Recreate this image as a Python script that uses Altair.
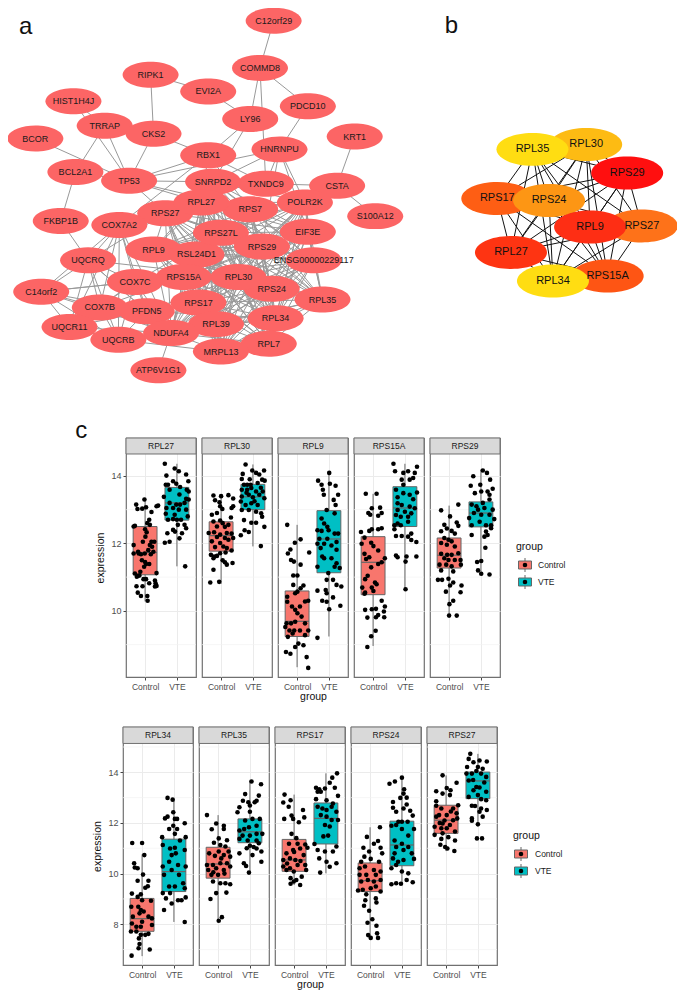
import itertools
import altair as alt
import pandas as pd

FONT = "Liberation Sans"

# ---------- network a ----------
A_NODES = ["C12orf29","COMMD8","RIPK1","EVI2A","HIST1H4J","PDCD10","KRT1","BCOR","S100A12","FKBP1B","BCL2A1","TRRAP","TP53","CKS2","LY96","HNRNPU","RBX1","CSTA","TXNDC9","SNRPD2","POLR2K","RPS7","EIF3E","ENSG00000229117","RPS27","RPL27","COX7A2","UQCRQ","C14orf2","RPL9","RSL24D1","RPS27L","RPS29","RPS24","RPL30","COX7C","RPS15A","RPL35","COX7B","UQCR11","UQCRB","PFDN5","RPL34","RPS17","RPL39","ATP6V1G1","NDUFA4","RPL7","MRPL13"]
A_X = [272,258,146,205,67,307,355,28,376,54,69,99,124,149,248,278,205,337,264,210,304,248,307,313,161,198,114,82,34,149,193,218,260,270,236,130,180,322,94,63,113,142,274,195,213,154,167,267,218]
A_Y = [13,61,68,85,95,100,131,133,212,217,167,120,176,128,113,144,150,181,179,177,198,205,228,257,209,198,221,257,289,246,251,229,243,286,274,279,274,297,305,325,338,309,316,300,322,369,331,342,350]
A_SPARSE = [("C12orf29","COMMD8"),("COMMD8","LY96"),("COMMD8","PDCD10"),("COMMD8","TXNDC9"),("RIPK1","EVI2A"),("RIPK1","CKS2"),("EVI2A","LY96"),("HIST1H4J","TRRAP"),("HIST1H4J","TP53"),("TRRAP","TP53"),("TRRAP","BCL2A1"),("TRRAP","CKS2"),("CKS2","TP53"),("CKS2","RBX1"),("BCOR","TP53"),("BCL2A1","TP53"),("BCL2A1","FKBP1B"),("TP53","RBX1"),("TP53","SNRPD2"),("TP53","RPS27"),("TP53","RPL27"),("TP53","RPS7"),("LY96","RBX1"),("LY96","SNRPD2"),("PDCD10","HNRNPU"),("KRT1","CSTA"),("HNRNPU","TXNDC9"),("HNRNPU","SNRPD2"),("HNRNPU","POLR2K"),("HNRNPU","EIF3E"),("HNRNPU","RPS29"),("HNRNPU","TP53"),("CSTA","S100A12"),("CSTA","TXNDC9"),("CSTA","POLR2K"),("FKBP1B","UQCRQ"),("RBX1","COX7A2"),("RBX1","RPS7"),("RBX1","TXNDC9"),("RBX1","RPL27"),("C14orf2","COX7C"),("ATP6V1G1","NDUFA4"),("UQCRQ","RPS27"),("COX7A2","RPL27"),("COX7C","RPS27L"),("COX7C","RPL30"),("UQCRQ","RPL30"),("UQCRB","RPL34"),("UQCRB","MRPL13"),("PFDN5","RPL34"),("PFDN5","RPL30"),("COX7B","RPS15A")]
A_MITO = ["UQCRQ","COX7A2","COX7C","C14orf2","COX7B","UQCR11","UQCRB","PFDN5","NDUFA4"]
A_RIBO = ["RPL27","RPS27","RPS7","RPS27L","RPS29","RPL9","RSL24D1","RPS15A","RPL30","RPS24","RPL35","RPS17","RPL34","RPL39","RPL7","MRPL13","EIF3E","ENSG00000229117","SNRPD2","NDUFA4","POLR2K"]

# ---------- network b ----------
B_NODES = ["RPL30","RPL35","RPS29","RPS17","RPS24","RPS27","RPL9","RPL27","RPS15A","RPL34"]
B_X = [592,537,634,501,554,649,596,515,614,558]
B_Y = [139,144,168,194,196,222,223,249,273,278]
B_COLORS = ["#FDBB13","#FFDD12","#FF0F0F","#FE5E14","#FD9614","#FE7219","#FE2E14","#FE3412","#FE5514","#FFDD12"]

LETTERS = ["a","b","c"]
LETTER_X = [18,454,75]
LETTER_Y = [19,18,431]

# ---------- box statistics: low, q1, median, q3, high ----------
STATS_RPL27 = [[10.28,11.07,11.73,12.50,13.35],[11.32,12.69,13.20,13.66,14.36]]
STATS_RPL30 = [[10.80,11.77,12.23,12.64,13.45],[11.91,13.00,13.38,13.75,14.34]]
STATS_RPL9 = [[8.33,9.24,9.69,10.59,12.55],[9.24,11.13,12.13,12.97,14.09]]
STATS_RPS15A = [[8.96,10.48,11.44,12.20,13.47],[10.62,12.50,13.05,13.68,14.36]]
STATS_RPS29 = [[9.86,11.27,11.65,12.16,13.12],[11.07,12.49,12.90,13.23,14.19]]
STATS_RPL34 = [[6.74,7.72,8.22,9.02,10.76],[8.09,9.29,10.08,11.36,12.96]]
STATS_RPL35 = [[8.11,9.82,10.38,11.04,12.31],[9.97,11.22,11.65,12.16,13.68]]
STATS_RPS17 = [[9.55,10.09,10.54,11.35,13.12],[10.01,11.17,12.18,12.79,13.96]]
STATS_RPS24 = [[7.46,9.29,9.72,10.42,11.83],[9.55,10.31,11.13,12.07,13.79]]
STATS_RPS27 = [[10.89,11.59,12.11,12.70,13.88],[11.85,12.96,13.66,14.01,14.73]]

# ---------- points (x position around group 1 or 2, expression) ----------
RPL27_C = [(0.72,13.15),(0.98,13.3),(0.76,13.02),(0.91,13.03),(1.03,13.07),(1.2,12.93),(1.36,13.1),(1.41,13.12),(1.13,12.7),(1.07,12.6),(1.15,12.55),(1.0,12.42),(0.68,12.52),(0.64,12.5),(1.05,12.33),(1.01,12.2),(0.93,12.05),(1.2,12.05),(1.29,12.05),(1.15,11.95),(0.64,11.95),(0.78,11.75),(0.64,11.7),(0.87,11.68),(0.99,11.7),(1.1,11.8),(1.26,11.75),(1.18,11.68),(0.9,11.5),(1.03,11.39),(1.13,11.39),(0.97,11.31),(0.85,11.16),(0.68,11.11),(0.74,11.01),(0.78,11.04),(0.95,10.94),(1.03,10.94),(1.36,11.12),(0.73,10.73),(0.92,10.73),(1.13,10.82),(1.31,10.9),(1.33,10.82),(1.36,10.74),(1.31,10.72),(0.77,10.54),(0.87,10.44),(1.07,10.44),(1.08,10.3),(0.8,11.7),(1.22,11.9),(1.0,11.45),(0.82,11.05)]
RPL27_V = [(1.62,14.36),(1.93,14.22),(2.06,14.14),(1.67,14.01),(2.29,14.04),(1.88,13.84),(2.36,13.84),(1.65,13.74),(1.72,13.74),(1.98,13.77),(2.1,13.67),(1.77,13.59),(2.31,13.59),(2.37,13.54),(2.08,13.45),(1.59,13.38),(2.29,13.32),(2.37,13.3),(1.77,13.2),(1.98,13.15),(2.1,13.15),(2.24,13.2),(1.67,13.05),(1.88,13.05),(2.06,13.0),(2.29,13.0),(1.65,12.88),(1.93,12.85),(2.34,12.8),(1.72,12.7),(1.88,12.72),(2.0,12.7),(2.13,12.7),(2.24,12.55),(2.03,12.55),(2.29,12.45),(1.88,12.4),(1.7,12.3),(1.62,12.02),(1.77,12.05),(2.08,12.15),(2.16,12.3),(1.94,12.35),(2.26,11.32)]
RPL30_C = [(0.76,13.42),(1.23,13.43),(1.0,13.4),(1.38,13.33),(0.81,13.28),(0.95,13.22),(0.97,13.1),(1.04,13.02),(1.38,13.1),(1.33,13.05),(0.71,12.85),(0.87,12.9),(1.31,12.77),(0.76,12.65),(0.97,12.68),(1.05,12.6),(1.23,12.55),(0.87,12.5),(1.12,12.49),(0.61,12.31),(0.78,12.33),(0.97,12.26),(1.18,12.31),(1.33,12.29),(0.87,12.19),(1.12,12.16),(1.38,12.16),(0.71,12.06),(0.97,12.01),(1.23,12.11),(0.81,11.89),(1.07,11.91),(1.18,11.86),(1.33,11.79),(0.68,11.66),(0.87,11.63),(0.97,11.71),(1.14,11.73),(0.76,11.56),(1.05,11.5),(0.78,11.61),(1.18,11.37),(1.36,11.42),(1.12,11.44),(0.76,11.22),(0.66,10.84),(0.94,10.86)]
RPL30_V = [(1.77,14.34),(1.98,14.16),(2.1,14.09),(2.35,14.16),(1.68,14.06),(1.65,13.91),(2.2,14.04),(2.29,13.89),(1.72,13.74),(1.82,13.74),(1.93,13.74),(2.15,13.79),(2.37,13.86),(1.65,13.59),(1.82,13.59),(1.95,13.64),(2.1,13.54),(2.31,13.54),(1.65,13.39),(1.87,13.44),(2.0,13.37),(2.2,13.44),(2.36,13.34),(1.62,13.24),(1.77,13.14),(1.95,13.19),(2.15,13.14),(1.65,12.99),(1.87,12.99),(2.1,12.94),(2.26,12.89),(2.29,12.79),(1.72,12.69),(1.95,12.61),(2.1,12.61),(2.36,12.49),(1.74,12.39),(1.87,12.34),(1.62,12.24),(2.25,11.92),(1.8,13.5),(2.05,13.25),(1.9,13.9),(2.25,13.65)]
RPL9_C = [(0.69,12.55),(1.11,12.12),(0.93,12.02),(0.79,11.82),(0.71,11.7),(0.81,11.51),(0.9,11.46),(1.38,11.73),(1.11,11.37),(0.88,11.05),(1.01,11.05),(0.88,10.77),(1.2,10.75),(1.11,10.67),(1.01,10.57),(0.94,10.52),(0.69,10.42),(0.69,10.27),(1.35,10.3),(1.25,10.28),(1.09,10.13),(0.84,10.13),(0.94,10.03),(1.01,9.93),(0.67,9.63),(0.81,9.63),(0.94,9.68),(1.14,9.83),(1.25,9.63),(0.63,9.52),(0.76,9.42),(0.91,9.42),(1.09,9.42),(1.35,9.42),(0.71,9.23),(0.86,9.33),(1.25,9.28),(1.04,9.03),(0.94,8.93),(1.2,8.98),(0.65,8.78),(0.79,8.73),(1.3,8.63),(1.35,8.31)]
RPL9_V = [(2.01,14.09),(1.66,13.86),(1.77,13.74),(2.03,13.77),(2.21,13.71),(1.81,13.59),(1.84,13.44),(2.29,13.44),(2.15,13.29),(2.21,13.14),(1.93,12.99),(2.18,12.89),(1.77,12.74),(1.85,12.59),(1.95,12.49),(1.64,12.39),(1.77,12.37),(1.99,12.39),(2.18,12.29),(2.29,12.29),(1.7,12.14),(1.95,12.14),(2.24,12.04),(1.64,11.99),(1.85,11.99),(2.08,11.94),(1.74,11.86),(2.24,11.81),(1.79,11.61),(2.08,11.56),(1.64,11.31),(1.85,11.56),(2.24,11.41),(2.18,11.31),(2.34,11.27),(1.98,11.12),(1.93,10.92),(2.13,10.92),(1.64,10.6),(1.9,10.62),(2.24,10.77),(2.39,10.72),(1.93,10.52),(2.13,10.4),(1.79,10.3),(1.93,10.27),(2.01,10.05),(2.36,10.15),(1.64,9.2)]
RPS15A_C = [(0.77,13.47),(1.11,13.47),(0.96,13.04),(1.22,13.06),(0.85,12.9),(1.27,12.9),(1.16,12.82),(0.91,12.85),(0.62,12.34),(0.88,12.37),(0.96,12.42),(1.16,12.42),(1.27,12.45),(0.73,12.17),(0.94,12.02),(1.01,11.92),(0.64,11.99),(1.16,11.79),(0.73,11.69),(0.88,11.59),(1.37,11.56),(0.78,11.54),(1.27,11.44),(1.16,11.39),(0.94,11.29),(0.83,11.04),(0.75,10.94),(1.06,10.84),(0.66,10.69),(0.96,10.69),(1.11,10.79),(1.01,10.59),(0.75,10.54),(0.73,10.51),(1.27,10.3),(1.37,10.13),(0.75,10.03),(0.96,10.05),(1.09,10.06),(1.34,9.98),(1.16,9.88),(1.35,9.81),(0.82,9.8),(1.09,9.81),(1.08,9.41),(0.94,9.25),(0.82,8.93)]
RPS15A_V = [(1.64,14.36),(2.38,14.27),(1.69,14.14),(2.1,14.14),(1.95,14.09),(2.31,14.09),(1.9,13.89),(2.26,13.94),(2.15,13.89),(1.95,13.74),(1.72,13.59),(2.38,13.51),(1.95,13.49),(2.15,13.44),(1.77,13.37),(2.26,13.31),(1.77,13.19),(1.9,13.14),(2.15,13.09),(2.31,13.04),(1.77,12.99),(2.0,12.94),(1.72,12.84),(1.87,12.79),(2.1,12.79),(2.2,12.89),(1.77,12.59),(1.87,12.54),(1.67,12.54),(2.1,12.64),(1.67,12.42),(2.2,12.29),(1.72,12.22),(1.9,12.22),(2.1,12.2),(2.2,12.1),(2.36,12.04),(1.72,11.64),(1.77,11.59),(2.05,11.61),(2.02,11.46),(2.36,11.61),(2.02,10.64)]
RPS29_C = [(0.75,12.98),(1.29,13.15),(1.03,12.8),(0.85,12.55),(1.24,12.62),(1.29,12.52),(0.75,12.36),(0.93,12.44),(1.08,12.37),(1.18,12.29),(0.85,12.16),(0.98,12.11),(1.08,12.06),(0.75,12.01),(0.93,11.96),(1.18,11.91),(0.75,11.69),(0.94,11.66),(1.08,11.66),(1.29,11.71),(0.85,11.56),(0.98,11.51),(1.18,11.51),(1.36,11.51),(0.7,11.37),(0.91,11.37),(1.08,11.32),(1.37,11.37),(0.75,11.2),(1.13,11.17),(0.65,10.92),(0.78,10.92),(0.98,10.95),(1.13,10.84),(1.39,10.75),(1.03,10.75),(0.9,10.57),(1.36,10.55),(1.13,10.3),(1.01,10.2),(1.0,9.86),(1.24,9.86)]
RPS29_V = [(2.06,14.16),(1.76,13.99),(2.19,14.09),(2.29,13.89),(1.68,13.71),(1.98,13.74),(2.37,13.62),(2.21,13.54),(1.81,13.49),(2.01,13.54),(2.27,13.44),(1.71,13.15),(1.86,13.1),(2.06,13.2),(2.27,13.3),(1.91,13.0),(2.11,13.05),(2.37,13.0),(1.63,12.75),(1.78,12.9),(2.01,12.85),(2.27,12.85),(2.42,12.72),(1.71,12.54),(1.96,12.64),(2.16,12.54),(2.32,12.54),(1.71,12.25),(2.16,12.35),(2.32,12.45),(2.11,12.2),(2.21,12.25),(2.14,11.87),(1.88,11.45),(2.01,11.48),(1.91,11.2),(2.01,11.1),(2.27,11.08)]
RPL34_C = [(0.69,11.21),(1.0,11.21),(1.07,10.73),(0.75,10.41),(0.77,10.24),(0.86,10.21),(1.03,9.96),(1.2,9.72),(0.86,9.72),(1.18,9.5),(1.1,9.44),(0.68,9.21),(0.96,9.18),(1.28,8.93),(0.86,9.08),(1.0,8.95),(0.66,8.69),(0.88,8.69),(0.96,8.56),(1.05,8.5),(0.71,8.3),(0.92,8.43),(1.2,8.3),(1.31,8.23),(0.68,8.03),(1.0,8.1),(1.31,7.97),(0.82,7.9),(0.96,7.9),(0.65,7.71),(0.82,7.71),(0.96,7.58),(1.1,7.58),(1.2,7.62),(0.9,7.44),(0.92,7.22),(0.89,7.05),(1.24,7.0),(0.67,6.76)]
RPL34_V = [(1.8,12.99),(1.96,12.92),(1.98,12.42),(1.72,12.18),(1.8,12.25),(2.03,12.16),(2.1,12.16),(2.34,11.99),(1.98,11.89),(1.85,11.76),(2.1,11.76),(1.63,11.44),(2.03,11.57),(2.37,11.44),(2.19,11.31),(2.03,11.02),(1.88,10.99),(1.65,11.13),(2.34,10.93),(1.93,10.73),(2.06,10.8),(1.65,10.28),(1.85,10.47),(2.13,10.34),(2.37,10.28),(1.93,10.14),(2.16,9.95),(1.69,9.95),(2.29,9.62),(2.03,9.49),(1.85,9.49),(1.65,9.23),(1.88,9.23),(2.34,9.42),(2.37,9.06),(2.13,8.95),(2.24,8.95),(1.75,9.02),(1.93,8.82),(1.69,8.56),(2.34,8.09)]
RPL35_C = [(0.65,12.31),(0.94,11.98),(1.18,11.89),(1.18,11.76),(0.8,11.75),(1.02,11.39),(1.28,11.32),(0.87,11.22),(1.07,11.13),(1.23,11.07),(1.33,10.87),(0.72,10.8),(1.02,10.87),(1.18,10.73),(1.38,10.67),(0.65,10.34),(0.84,10.34),(1.07,10.41),(1.28,10.41),(0.69,10.14),(0.94,10.21),(1.18,10.14),(1.38,10.28),(0.79,9.95),(1.0,9.95),(0.84,9.69),(1.07,9.62),(1.23,9.62),(1.38,9.58),(0.94,9.23),(1.26,9.25),(0.76,9.0),(1.12,8.28),(1.02,8.14),(0.9,10.7),(1.1,10.6),(0.85,10.05),(1.2,10.0)]
RPL35_V = [(2.05,13.64),(2.35,13.53),(1.85,13.14),(2.28,13.08),(2.21,12.88),(1.78,12.88),(1.95,12.82),(1.67,12.62),(2.0,12.69),(2.15,12.82),(1.61,12.42),(2.0,12.44),(2.08,12.16),(2.31,12.16),(1.85,12.1),(1.67,11.7),(1.82,11.76),(1.97,11.83),(2.21,11.89),(2.39,11.57),(1.77,11.5),(2.0,11.5),(2.21,11.57),(1.67,11.37),(1.93,11.31),(2.21,11.31),(2.0,11.1),(2.21,10.99),(2.36,10.87),(1.67,10.8),(2.08,10.73),(1.81,10.41),(1.88,10.3),(2.36,10.47),(1.97,10.04),(1.9,11.0),(2.12,11.05),(2.28,11.2)]
RPS17_C = [(0.7,13.12),(0.66,12.81),(0.89,12.9),(0.83,12.64),(1.28,12.51),(0.69,12.16),(0.92,12.29),(0.97,12.16),(1.15,12.03),(1.32,12.22),(0.92,11.57),(1.07,11.4),(0.84,11.18),(1.11,11.18),(1.35,11.15),(0.76,10.8),(0.97,10.93),(1.19,10.99),(1.42,11.02),(0.66,10.54),(0.87,10.6),(1.04,10.54),(1.3,10.73),(0.66,10.28),(0.87,10.21),(1.11,10.34),(1.35,10.34),(0.76,10.14),(0.99,10.08),(1.38,10.14),(0.89,9.82),(1.07,9.75),(1.24,9.88),(0.89,9.6),(1.19,9.55),(0.99,9.69),(0.78,10.4),(1.2,10.5),(1.0,10.85)]
RPS17_V = [(1.69,13.39),(1.79,13.33),(1.97,13.36),(2.28,13.39),(2.35,13.96),(2.2,13.79),(2.12,13.59),(1.69,12.94),(1.74,13.23),(1.84,13.23),(2.38,13.07),(2.02,12.9),(2.22,12.77),(1.74,12.64),(1.89,12.57),(2.02,12.51),(2.18,12.64),(2.33,12.44),(1.84,12.31),(2.02,12.25),(2.18,12.12),(2.38,12.12),(1.97,11.92),(2.12,11.86),(1.92,11.47),(2.07,11.5),(1.64,11.17),(1.74,10.93),(1.97,10.87),(2.22,10.87),(2.33,11.07),(1.79,10.6),(2.02,10.47),(2.33,10.41),(2.12,10.27),(1.82,10.04)]
RPS24_C = [(1.31,11.83),(0.9,11.45),(1.25,11.29),(1.12,11.18),(0.79,11.02),(1.33,11.02),(0.97,10.87),(1.38,10.8),(0.82,10.67),(1.02,10.58),(0.72,10.47),(1.28,10.47),(0.67,10.21),(0.84,10.28),(1.12,10.14),(0.67,9.95),(0.88,9.95),(1.18,9.95),(1.33,10.08),(0.72,9.69),(0.93,9.75),(1.12,9.69),(1.33,9.75),(0.62,9.33),(0.77,9.36),(1.02,9.42),(1.18,9.49),(1.33,9.29),(0.88,9.18),(1.18,9.02),(0.85,8.95),(0.81,8.73),(1.2,8.86),(0.97,8.53),(1.07,8.2),(0.92,8.06),(1.2,7.94),(0.94,7.57),(1.22,7.64),(1.02,7.46),(1.25,7.46)]
RPS24_V = [(2.0,13.79),(1.61,13.55),(1.78,13.64),(2.07,13.33),(2.05,13.16),(1.95,12.99),(2.15,13.0),(1.72,12.83),(2.15,12.73),(1.72,12.6),(2.05,12.57),(1.82,12.44),(2.26,12.48),(2.34,12.29),(1.89,12.05),(2.0,12.05),(2.18,12.05),(1.67,11.89),(1.82,11.92),(2.38,11.76),(2.0,11.76),(2.2,11.5),(1.77,11.31),(2.0,11.18),(2.2,11.05),(1.82,11.05),(2.05,10.93),(1.77,10.8),(2.31,10.8),(1.72,10.6),(1.88,10.47),(2.05,10.54),(2.38,10.58),(1.67,10.21),(1.82,10.34),(2.0,10.08),(2.2,10.01),(1.67,9.58),(1.82,9.62),(1.97,9.6),(2.15,9.75),(2.34,9.66)]
RPS27_C = [(0.89,13.88),(1.33,13.59),(0.69,13.25),(1.02,13.38),(1.14,13.29),(0.89,13.16),(1.12,13.1),(0.69,12.86),(0.69,12.68),(0.85,12.57),(1.22,12.57),(1.38,12.7),(1.33,12.38),(0.78,12.31),(1.02,12.31),(1.22,12.11),(0.69,12.25),(0.89,11.98),(1.12,11.92),(1.35,12.18),(0.64,11.85),(0.85,11.79),(1.02,11.79),(1.28,11.66),(0.64,11.53),(0.89,11.59),(1.07,11.44),(0.85,11.37),(1.28,11.31),(0.82,11.14),(0.97,11.05),(1.04,10.99),(1.26,10.89),(0.95,12.1),(1.15,12.45),(0.8,12.0)]
RPS27_V = [(1.76,14.73),(1.71,14.53),(2.05,14.47),(2.28,14.43),(1.86,14.4),(1.66,14.21),(2.0,14.21),(2.15,14.14),(1.64,13.95),(1.81,13.95),(2.1,13.95),(2.26,13.82),(1.71,13.68),(1.95,13.42),(2.26,13.23),(1.86,13.29),(2.0,13.1),(2.1,12.94),(1.71,13.03),(2.26,12.9),(1.81,12.68),(1.91,12.67),(2.1,12.57),(2.28,12.51),(2.05,12.44),(1.81,12.18),(1.81,12.09),(2.15,12.25),(2.0,11.95),(1.97,11.39),(2.13,11.39),(1.95,14.05),(2.2,13.6),(1.85,13.7),(2.05,13.4)]

GROUPS = ["Control", "VTE"]
GROUP_COLORS = ["#F8766D", "#00BFC4"]
XS = alt.Scale(domain=[0.4, 2.6], nice=False, zero=False)
BORDER = "#707070"
GRID = "#EBEBEB"
TXT = "#4D4D4D"


def panel(gene, stats, control, vte, ydom, strip_base, majors, minors, yaxis=False, xtitle=False, height=239):
    ys = alt.Scale(domain=ydom, nice=False, zero=False)
    xaxis = alt.Axis(values=[1, 2], labelExpr="datum.value == 1 ? 'Control' : 'VTE'", grid=True, gridColor=GRID,
                     gridWidth=1, domain=False, tickColor="#444444", tickSize=3, labelColor=TXT, labelFontSize=8.5,
                     labelFont=FONT, labelPadding=2, title="group" if xtitle else None, titleFontSize=10.5,
                     titleFont=FONT, titleFontWeight="normal", titleColor="#111111", titlePadding=1)
    axis_kw = dict(values=majors, grid=True, gridColor=GRID, gridWidth=1, domain=False)
    if yaxis:
        ax = alt.Axis(tickColor="#444444", tickSize=3, labelColor=TXT, labelFontSize=9, labelFont=FONT, labelPadding=2,
                      title="expression", titleFontSize=10.5, titleFont=FONT, titleFontWeight="normal",
                      titleColor="#111111", titlePadding=5, **axis_kw)
    else:
        ax = alt.Axis(labels=False, ticks=False, title=None, **axis_kw)
    X_ = lambda f: alt.X(f, scale=XS, axis=xaxis)
    Y_ = lambda f: alt.Y(f, scale=ys, axis=ax)

    box = pd.DataFrame({"group": GROUPS, "pos": [1, 2], "x0": [0.625, 1.625], "x1": [1.375, 2.375],
                        "lo": [s[0] for s in stats], "q1": [s[1] for s in stats], "med": [s[2] for s in stats],
                        "q3": [s[3] for s in stats], "hi": [s[4] for s in stats]})
    pts = pd.DataFrame(control + vte, columns=["x", "y"])
    minor = pd.DataFrame({"v": minors, "x0": [0.4] * len(minors), "x1": [2.6] * len(minors)})
    top = ydom[1]
    strip = pd.DataFrame({"x0": [0.4], "x1": [2.6], "y0": [strip_base], "y1": [top], "gene": [gene], "xm": [1.5],
                          "ym": [(strip_base + top) / 2]})
    layers = [
        alt.Chart(minor).mark_rule(color="#F2F2F2", strokeWidth=0.7).encode(x=X_("x0:Q"), x2="x1:Q", y=Y_("v:Q")),
        alt.Chart(box).mark_rule(color="#666666", strokeWidth=1).encode(x=X_("pos:Q"), y=Y_("lo:Q"), y2="hi:Q"),
        alt.Chart(box).mark_rect(stroke="#666666", strokeWidth=1).encode(
            x=X_("x0:Q"), x2="x1:Q", y=Y_("q1:Q"), y2="q3:Q",
            fill=alt.Fill("group:N", scale=alt.Scale(domain=GROUPS, range=GROUP_COLORS), legend=None)),
        alt.Chart(box).mark_rule(color="#666666", strokeWidth=1.2).encode(x=X_("x0:Q"), x2="x1:Q", y=Y_("med:Q")),
        alt.Chart(pts).mark_circle(color="#000000", opacity=1, size=21).encode(x=X_("x:Q"), y=Y_("y:Q")),
        alt.Chart(strip).mark_rect(fill="#D9D9D9", stroke=BORDER, strokeWidth=1).encode(
            x=X_("x0:Q"), x2="x1:Q", y=Y_("y0:Q"), y2="y1:Q"),
        alt.Chart(strip).mark_text(font=FONT, fontSize=8.5, color="#1A1A1A").encode(
            x=X_("xm:Q"), y=Y_("ym:Q"), text="gene:N"),
    ]
    return alt.layer(*layers).properties(width=70, height=height, view=alt.ViewBackground(stroke=BORDER, strokeWidth=1.2))


def spacer(w, h=10):
    return alt.Chart(pd.DataFrame({"v": [0]})).mark_point(opacity=0, size=1).encode(x=alt.value(w / 2), y=alt.value(h / 2)).properties(
        width=w, height=h, view=alt.ViewBackground(stroke=None))


def legend(width=95, height=239, title_y=109, key_y=127, x_title=10, x_key=19, x_label=32):
    xs = alt.Scale(domain=[0, width], nice=False, zero=False)
    ys = alt.Scale(domain=[height, 0], nice=False, zero=False)
    df = pd.DataFrame({"group": GROUPS, "row": [0, 1]})
    base = alt.Chart(df).transform_calculate(
        yc=f"{key_y} + datum.row * 17", x0=f"{x_key - 6.5}", x1=f"{x_key + 6.5}", xc=f"{x_key}",
        y0=f"{key_y} + datum.row * 17 - 4", y1=f"{key_y} + datum.row * 17 + 4",
        w0=f"{key_y} + datum.row * 17 - 7", w1=f"{key_y} + datum.row * 17 + 7", xl=f"{x_label}")
    X_ = lambda f: alt.X(f, scale=xs, axis=None)
    Y_ = lambda f: alt.Y(f, scale=ys, axis=None)
    fill = alt.Fill("group:N", scale=alt.Scale(domain=GROUPS, range=GROUP_COLORS), legend=None)
    head = pd.DataFrame({"t": ["group"], "x": [x_title], "y": [title_y]})
    return alt.layer(
        base.mark_rule(color="#666666", strokeWidth=1).encode(x=X_("xc:Q"), y=Y_("w0:Q"), y2="w1:Q"),
        base.mark_rect(stroke="#666666", strokeWidth=1).encode(x=X_("x0:Q"), x2="x1:Q", y=Y_("y0:Q"), y2="y1:Q", fill=fill),
        base.mark_circle(color="#000000", opacity=1, size=21).encode(x=X_("xc:Q"), y=Y_("yc:Q")),
        base.mark_text(font=FONT, fontSize=8.5, align="left", color="#1A1A1A").encode(x=X_("xl:Q"), y=Y_("yc:Q"), text="group:N"),
        alt.Chart(head).mark_text(font=FONT, fontSize=10.5, align="left", color="#111111").encode(x=X_("x:Q"), y=Y_("y:Q"), text="t:N"),
    ).properties(width=width, height=height, view=alt.ViewBackground(stroke=None))


# ---------- top networks ----------
pos_a = {n: (x, y) for n, x, y in zip(A_NODES, A_X, A_Y)}
pos_b = {n: (x, y) for n, x, y in zip(B_NODES, B_X, B_Y)}
edges_a = A_SPARSE + list(itertools.combinations(A_MITO, 2)) + list(itertools.combinations(A_RIBO, 2))
edges_b = list(itertools.combinations(B_NODES, 2))
df_ea = pd.DataFrame([{"x": pos_a[s][0], "y": pos_a[s][1], "x2": pos_a[t][0], "y2": pos_a[t][1]} for s, t in edges_a])
df_eb = pd.DataFrame([{"x": pos_b[s][0], "y": pos_b[s][1], "x2": pos_b[t][0], "y2": pos_b[t][1]} for s, t in edges_b])
df_na = pd.DataFrame({"n": A_NODES, "x": A_X, "y": A_Y})
df_nb = pd.DataFrame({"n": B_NODES, "x": B_X, "y": B_Y, "c": B_COLORS})
df_l = pd.DataFrame({"t": LETTERS, "x": LETTER_X, "y": LETTER_Y})

TOP_W, TOP_H = 669, 430
tx = alt.Scale(domain=[0, 685], nice=False, zero=False)
ty = alt.Scale(domain=[438, 0], nice=False, zero=False)
TX = lambda f: alt.X(f, scale=tx, axis=None)
TY = lambda f: alt.Y(f, scale=ty, axis=None)
ELL_A = "M-1,0 C-1,-0.256 -0.552,-0.464 0,-0.464 C0.552,-0.464 1,-0.256 1,0 C1,0.256 0.552,0.464 0,0.464 C-0.552,0.464 -1,0.256 -1,0 Z"
ELL_B = "M-1,0 C-1,-0.253 -0.552,-0.458 0,-0.458 C0.552,-0.458 1,-0.253 1,0 C1,0.253 0.552,0.458 0,0.458 C-0.552,0.458 -1,0.253 -1,0 Z"

top = alt.layer(
    alt.Chart(df_ea).mark_rule(color="#999999", strokeWidth=1).encode(x=TX("x:Q"), y=TY("y:Q"), x2="x2:Q", y2="y2:Q"),
    alt.Chart(df_na).mark_point(shape=ELL_A, filled=True, size=3136, opacity=1, color="#FC6565", strokeWidth=0, clip=True).encode(x=TX("x:Q"), y=TY("y:Q")),
    alt.Chart(df_na).mark_text(font=FONT, fontSize=9, color="#1A1A1A").encode(x=TX("x:Q"), y=TY("y:Q"), text="n:N"),
    alt.Chart(df_eb).mark_rule(color="#111111", strokeWidth=1).encode(x=TX("x:Q"), y=TY("y:Q"), x2="x2:Q", y2="y2:Q"),
    alt.Chart(df_nb).mark_point(shape=ELL_B, filled=True, size=5184, opacity=1, strokeWidth=0, clip=True).encode(
        x=TX("x:Q"), y=TY("y:Q"), fill=alt.Fill("c:N", scale=None), color=alt.value(None)),
    alt.Chart(df_nb).mark_text(font=FONT, fontSize=11, color="#111111").encode(x=TX("x:Q"), y=TY("y:Q"), text="n:N"),
    alt.Chart(df_l).mark_text(font=FONT, fontSize=24, color="#111111").encode(x=TX("x:Q"), y=TY("y:Q"), text="t:N"),
).properties(width=TOP_W, height=TOP_H, view=alt.ViewBackground(stroke=None))

# ---------- rows ----------
R1 = dict(ydom=[8.04, 15.124], strip_base=14.65, majors=[10, 12, 14], minors=[9, 11, 13], height=239)
R2 = dict(ydom=[6.39, 15.79], strip_base=15.14, majors=[8, 10, 12, 14], minors=[7, 9, 11, 13, 15], height=238)

row1 = alt.hconcat(
    spacer(112),
    panel("RPL27", STATS_RPL27, RPL27_C, RPL27_V, yaxis=True, **R1),
    panel("RPL30", STATS_RPL30, RPL30_C, RPL30_V, **R1),
    panel("RPL9", STATS_RPL9, RPL9_C, RPL9_V, xtitle=True, **R1),
    panel("RPS15A", STATS_RPS15A, RPS15A_C, RPS15A_V, **R1),
    panel("RPS29", STATS_RPS29, RPS29_C, RPS29_V, **R1),
    legend(),
    spacing=6, bounds="flush",
)
row2 = alt.hconcat(
    spacer(108.5),
    panel("RPL34", STATS_RPL34, RPL34_C, RPL34_V, yaxis=True, **R2),
    panel("RPL35", STATS_RPL35, RPL35_C, RPL35_V, **R2),
    panel("RPS17", STATS_RPS17, RPS17_C, RPS17_V, xtitle=True, **R2),
    panel("RPS24", STATS_RPS24, RPS24_C, RPS24_V, **R2),
    panel("RPS27", STATS_RPS27, RPS27_C, RPS27_V, **R2),
    legend(height=238, x_key=18),
    spacing=6, bounds="flush",
)

# nested flush rows take no height of their own in the flush column, so the gap holds row 1's height too
chart = alt.vconcat(top, row1, spacer(10, 289), row2, spacing=0, bounds="flush").properties(padding=0).configure_view(stroke=None)
chart.save("out.html", embed_options={"renderer": "svg", "actions": False})
